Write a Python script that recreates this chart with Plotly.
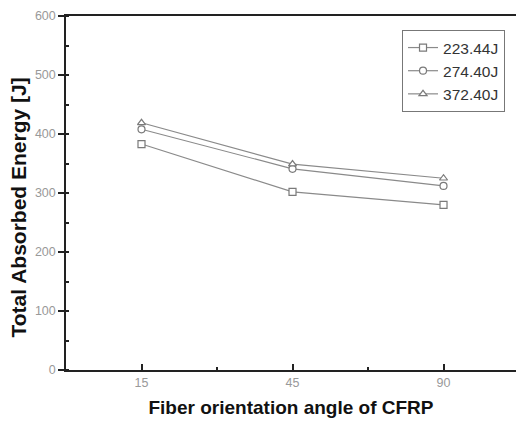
import plotly.graph_objects as go

angles = ["15", "45", "90"]
e_223 = [383, 302, 280]
e_274 = [408, 341, 312]
e_372 = [419, 349, 325]
series_names = ["223.44J", "274.40J", "372.40J"]
symbols = ["square", "circle", "triangle-up"]

fig = go.Figure()
for name, vals, sym in zip(series_names, [e_223, e_274, e_372], symbols):
    fig.add_trace(go.Scatter(
        x=angles, y=vals, name=name, mode="lines+markers",
        line=dict(color="#8a8a8a", width=1.2),
        marker=dict(symbol=sym, size=7, color="white",
                    line=dict(color="#7a7a7a", width=1.2)),
    ))

fig.update_layout(
    width=516, height=421,
    margin=dict(l=66, r=0, t=16, b=51),
    plot_bgcolor="white", paper_bgcolor="white",
    font=dict(family="Arial, Liberation Sans, sans-serif"),
    showlegend=True,
    legend=dict(
        x=0.7467, y=0.9605, xanchor="left", yanchor="top",
        bgcolor="white", bordercolor="#777", borderwidth=1,
        font=dict(size=15.5, color="#333"),
        tracegroupgap=0, itemwidth=30,
    ),
    xaxis=dict(
        type="category", range=[-0.5, 2.48],
        showline=True, linecolor="#222", linewidth=1.5, mirror=True,
        ticks="inside", ticklen=6, tickcolor="#222", tickwidth=1.5,
        tickfont=dict(size=12.5, color="#999"),
        showgrid=False, zeroline=False,
        minor=dict(ticks="inside", ticklen=3, tickcolor="#222",
                   tickmode="array", tickvals=[0.5, 1.5], showgrid=False),
        title=dict(text="<b>Fiber orientation angle of CFRP</b>",
                   font=dict(size=19, color="#111"), standoff=12),
    ),
    yaxis=dict(
        range=[0, 600], dtick=100,
        showline=True, linecolor="#222", linewidth=1.5,
        ticks="outside", ticklen=6, tickcolor="#222", tickwidth=1.5,
        tickfont=dict(size=12.5, color="#999"),
        showgrid=False, zeroline=False,
        minor=dict(ticks="inside", ticklen=3, tickcolor="#222", dtick=50, showgrid=False),
    ),
    annotations=[dict(
        text="<b>Total Absorbed Energy [J]</b>", textangle=-90,
        xref="paper", yref="paper", x=(18 - 66) / 450, y=(370 - 207.5) / 354,
        xanchor="center", yanchor="middle", showarrow=False,
        font=dict(size=21, color="#111"),
    )],
)

fig.write_html("out.html")
